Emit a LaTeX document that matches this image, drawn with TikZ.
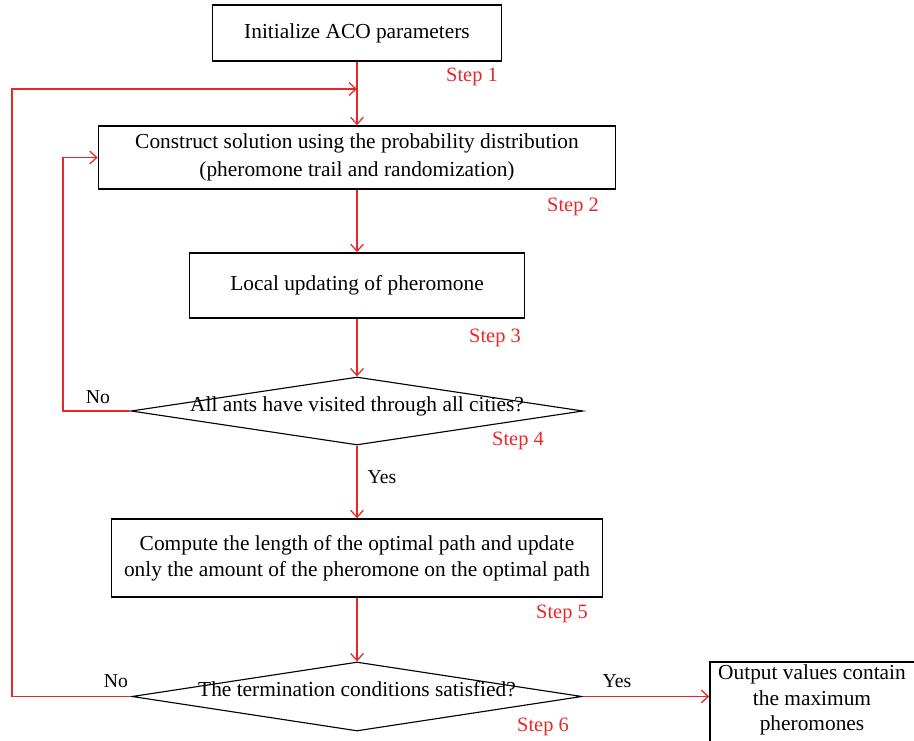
\documentclass[tikz,border=0pt]{standalone}
\usepackage{fontspec}
\setmainfont{Liberation Serif}
\usetikzlibrary{shapes.geometric,arrows.meta}

\definecolor{stepred}{RGB}{232,40,40}

\tikzset{
	box/.style={draw,line width=1.1pt,inner sep=0pt,align=center,font=\fontsize{15.2}{19.5}\selectfont},
	decision/.style={draw,diamond,line width=0.8pt,inner sep=0pt,shape aspect=6.6,text height=0.05em,text depth=-0.05em,font=\fontsize{15.2}{19.5}\selectfont},
	flow/.style={stepred,line width=0.9pt},
	steplabel/.style={stepred,font=\fontsize{14.5}{16}\selectfont},
	answer/.style={font=\fontsize{14}{16}\selectfont}
}

\begin{document}
\begin{tikzpicture}[x=0.025cm,y=-0.025cm,>={Straight Barb[length=5pt,width=9pt]}]

	\useasboundingbox (0,0) rectangle (914,741);

	% boxes and decisions
	\node[box,minimum width=289*0.025cm,minimum height=56*0.025cm] (init) at (357,33) {Initialize ACO parameters};
	\node[box,minimum width=517*0.025cm,minimum height=63*0.025cm] (construct) at (357,157.5) {Construct solution using the probability distribution\\(pheromone trail and randomization)};
	\node[box,minimum width=335*0.025cm,minimum height=65*0.025cm] (local) at (357,285.5) {Local updating of pheromone};
	\node[decision,minimum width=452*0.025cm,minimum height=68*0.025cm] (visited) at (357,411) {All ants have visited through all cities?};
	\node[box,font=\fontsize{15.2}{18.7}\selectfont,minimum width=491*0.025cm,minimum height=78*0.025cm] (optimal) at (357,558) {Compute the length of the optimal path and update\\only the amount of the pheromone on the optimal path};
	\node[decision,minimum width=450*0.025cm,minimum height=69*0.025cm] (term) at (357,696.5) {The termination conditions satisfied?};
	\node[box,minimum width=212*0.025cm,minimum height=88*0.025cm] (output) at (816,706) {};
	\node[font=\fontsize{15.2}{18.3}\selectfont,align=center] (outtext) at (812,700) {Output values contain\\the maximum\\pheromones};

	% step labels
	\node[steplabel] (s1) at (472,77) {Step 1};
	\node[steplabel] (s2) at (573,207) {Step 2};
	\node[steplabel] (s3) at (495,338) {Step 3};
	\node[steplabel] (s4) at (518,441) {Step 4};
	\node[steplabel] (s5) at (562,614) {Step 5};
	\node[steplabel] (s6) at (543,727) {Step 6};

	\node[answer] (no1) at (98,397) {No};
	\node[answer] (yes1) at (382,477) {Yes};
	\node[answer] (no2) at (116,681) {No};
	\node[answer] (yes2) at (617,681) {Yes};

	% corner points of the loops
	\coordinate (join) at (357,89);
	\coordinate (outer) at (12,0);
	\coordinate (inner) at (63,0);

	% main flow
	\draw[flow,->] (init) -- (construct);
	\draw[flow,->] (construct) -- (local);
	\draw[flow,->] (local) -- (visited);
	\draw[flow,->] (visited) -- (optimal);
	\draw[flow,->] (optimal) -- (term);
	\draw[flow,->] (term.east) -- (output.west |- term.east);

	% loops back
	\draw[flow,->] (visited.west) -- (visited.west -| inner) |- (construct.west);
	\draw[flow,->] (term.west) -- (term.west -| outer) |- (join);

\end{tikzpicture}
\end{document}
